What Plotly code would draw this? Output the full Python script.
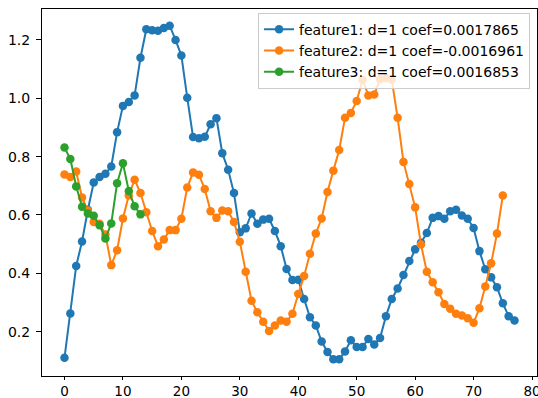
import plotly.graph_objects as go

# Series values, indexed 0..n-1
feature1 = [0.110, 0.262, 0.425, 0.509, 0.618, 0.711, 0.730, 0.741, 0.766, 0.884,
            0.974, 0.987, 1.010, 1.139, 1.237, 1.233, 1.232, 1.241, 1.249, 1.200,
            1.147, 1.002, 0.867, 0.863, 0.868, 0.911, 0.932, 0.812, 0.755, 0.675,
            0.541, 0.554, 0.605, 0.570, 0.584, 0.587, 0.545, 0.493, 0.415, 0.377,
            0.378, 0.312, 0.249, 0.221, 0.166, 0.130, 0.105, 0.105, 0.132, 0.170,
            0.147, 0.147, 0.175, 0.156, 0.178, 0.253, 0.312, 0.348, 0.394, 0.442,
            0.482, 0.505, 0.538, 0.590, 0.596, 0.587, 0.613, 0.618, 0.598, 0.587,
            0.555, 0.476, 0.414, 0.386, 0.352, 0.297, 0.253, 0.238]

feature2 = [0.739, 0.730, 0.749, 0.660, 0.615, 0.576, 0.570, 0.533, 0.428, 0.479,
            0.588, 0.667, 0.721, 0.675, 0.609, 0.545, 0.493, 0.516, 0.548, 0.548,
            0.587, 0.694, 0.746, 0.738, 0.689, 0.613, 0.590, 0.615, 0.613, 0.576,
            0.508, 0.405, 0.306, 0.266, 0.234, 0.202, 0.221, 0.238, 0.234, 0.261,
            0.329, 0.391, 0.467, 0.536, 0.588, 0.679, 0.752, 0.823, 0.933, 0.950,
            0.991, 1.064, 1.010, 1.013, 1.065, 1.070, 1.064, 0.933, 0.782, 0.706,
            0.626, 0.499, 0.405, 0.369, 0.335, 0.295, 0.278, 0.261, 0.255, 0.246,
            0.230, 0.280, 0.355, 0.434, 0.536, 0.667]

feature3 = [0.831, 0.792, 0.698, 0.628, 0.605, 0.597, 0.565, 0.519, 0.571, 0.709,
            0.777, 0.682, 0.630, 0.602]

names = ["feature1: d=1 coef=0.0017865",
         "feature2: d=1 coef=-0.0016961",
         "feature3: d=1 coef=0.0016853"]
colors = ["#1f77b4", "#ff7f0e", "#2ca02c"]

x_ticks = [0, 10, 20, 30, 40, 50, 60, 70, 80]
y_ticks = [0.2, 0.4, 0.6, 0.8, 1.0, 1.2]

fig = go.Figure()
for vals, name, col in zip([feature1, feature2, feature3], names, colors):
    fig.add_trace(go.Scatter(
        x=list(range(len(vals))), y=vals, name=name, mode="lines+markers",
        line=dict(color=col, width=2),
        marker=dict(color=col, size=8.5),
    ))

# 5% padding around the data, like matplotlib's autoscale
all_y = feature1 + feature2 + feature3
xmax = max(len(feature1), len(feature2), len(feature3)) - 1
xpad = 0.05 * xmax
ymin, ymax = min(all_y), max(all_y)
ypad = 0.05 * (ymax - ymin)

axis_common = dict(
    showline=True, mirror=True, linecolor="black", linewidth=1,
    ticks="outside", tickwidth=1, tickcolor="black",
    showgrid=False, zeroline=False, automargin=False,
    ticklabeloverflow="allow",
)

fig.update_layout(
    width=538, height=398,
    margin=dict(l=42, r=1, t=9, b=22),
    paper_bgcolor="white", plot_bgcolor="white",
    font=dict(family="DejaVu Sans", size=14, color="black"),
    xaxis=dict(range=[-xpad, xmax + xpad], tickvals=x_ticks, ticklen=3, ticklabelstandoff=0,
               tickfont=dict(family="DejaVu Sans", size=13.5, color="black"), **axis_common),
    yaxis=dict(range=[ymin - ypad, ymax + ypad], tickvals=y_ticks, tickformat=".1f",
               ticklen=5, ticklabelstandoff=3,
               tickfont=dict(family="DejaVu Sans", size=14, color="black"), **axis_common),
    legend=dict(
        x=0.986, y=0.99, xanchor="right", yanchor="top",
        bgcolor="rgba(255,255,255,0.8)", bordercolor="#cccccc", borderwidth=1,
        font=dict(family="DejaVu Sans", size=14, color="black"),
        tracegroupgap=0, itemwidth=30,
    ),
    showlegend=True,
)

fig.write_html("out.html")
